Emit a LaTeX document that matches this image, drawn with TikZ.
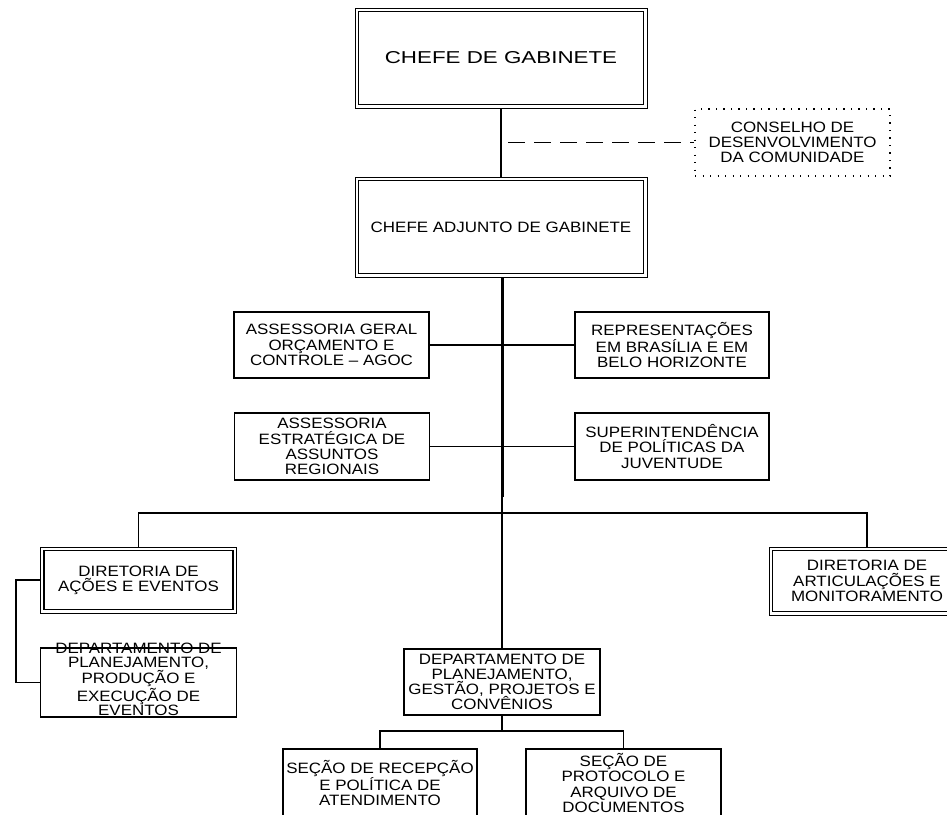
\documentclass[tikz,border=0pt]{standalone}
\usepackage{fontspec}
\setmainfont{Liberation Sans}[FakeStretch=1.13]
\newfontfamily\bigfont{Liberation Sans}[FakeStretch=1.3]
\newcommand\innerframe[1]{\draw[line width=1.6pt] ([shift={(4,4)}]#1.north west) rectangle ([shift={(-4,-4)}]#1.south east);}
\begin{document}
\begin{tikzpicture}[x=1pt,y=-1pt,
  box/.style={draw, line width=1.1pt, inner sep=0pt, align=center,
    font=\fontsize{15}{15.2}\selectfont},
  dblbox/.style={box, line width=0.9pt},
  dotbox/.style={box, draw, line width=1.3pt, dash pattern=on 1.3pt off 6.2pt},
  link/.style={line width=1.2pt},
  trunk/.style={line width=3pt},
  dashlink/.style={line width=1.3pt, dash pattern=on 17pt off 9pt}]
\useasboundingbox (0,0) rectangle (947,814);
\clip (0,0) rectangle (947,814);

% nodes
\node[dblbox, minimum width=292, minimum height=100, font=\bigfont\fontsize{17.2}{20}\selectfont] (top) at (501,58) {CHEFE DE GABINETE};
\node[dblbox, minimum width=292, minimum height=100] (adj) at (501,227) {CHEFE ADJUNTO DE GABINETE};
\node[dotbox, minimum width=195, minimum height=67] (cons) at (792.5,142.5) {CONSELHO DE\\DESENVOLVIMENTO\\DA COMUNIDADE};

\node[box, minimum width=195, minimum height=66] (agoc) at (331.5,345) {ASSESSORIA GERAL\\ORÇAMENTO E\\CONTROLE – AGOC};
\node[box, minimum width=194, minimum height=66] (rep) at (672,345) {REPRESENTAÇÕES\\EM BRASÍLIA E EM\\BELO HORIZONTE};
\node[box, minimum width=195, minimum height=67] (aear) at (332,446.5) {ASSESSORIA\\ESTRATÉGICA DE\\ASSUNTOS\\REGIONAIS};
\node[box, minimum width=194, minimum height=67] (spj) at (672,446.5) {SUPERINTENDÊNCIA\\DE POLÍTICAS DA\\JUVENTUDE};

\node[dblbox, minimum width=196, minimum height=66] (dae) at (138.5,580) {DIRETORIA DE\\AÇÕES E EVENTOS};
\node[dblbox, minimum width=196, minimum height=68] (dam) at (867,581) {DIRETORIA DE\\ARTICULAÇÕES E\\MONITORAMENTO};

\node[box, minimum width=196, minimum height=69] (dpp) at (138.5,682.5) {\raisebox{-1pt}{\smash{\parbox[c]{196pt}{\centering\fontsize{15}{14.6}\selectfont DEPARTAMENTO DE\\PLANEJAMENTO,\\PRODUÇÃO E\\EXECUÇÃO DE\\EVENTOS}}}};
\node[box, minimum width=196, minimum height=66] (dpg) at (502,682) {DEPARTAMENTO DE\\PLANEJAMENTO,\\GESTÃO, PROJETOS E\\CONVÊNIOS};

\node[box, minimum width=194, minimum height=68] (srp) at (380,783) {SEÇÃO DE RECEPÇÃO\\E POLÍTICA DE\\ATENDIMENTO};
\node[box, minimum width=195, minimum height=68] (spa) at (623.5,783) {SEÇÃO DE\\PROTOCOLO E\\ARQUIVO DE\\DOCUMENTOS};

\innerframe{top}
\innerframe{adj}
\innerframe{dae}
\innerframe{dam}

% helper coordinates
\coordinate (dstart) at (508,142.5);
\coordinate (tmid) at (502,497);
\coordinate (bar) at (502,513);
\coordinate (sbar) at (502,731);

% connectors
\draw[line width=1.8pt] (top.south) -- (adj.north);
\draw[dashlink] (dstart) -- (cons.west);
\draw[trunk] (adj.south -| tmid) -- (tmid);
\draw[link] (tmid) -- (dpg.north -| tmid);
\draw[link] (agoc.east) -- (rep.west);
\draw[link] (aear.east) -- (spj.west);
\draw[link] (dae.north) |- (bar) -| (dam.north);
\draw[link] (dae.west) -- ++(-24,0) |- (dpp.west);
\draw[link] (dpg.south -| sbar) -- (sbar);
\draw[link] (srp.north) |- (sbar) -| (spa.north);
\end{tikzpicture}
\end{document}
